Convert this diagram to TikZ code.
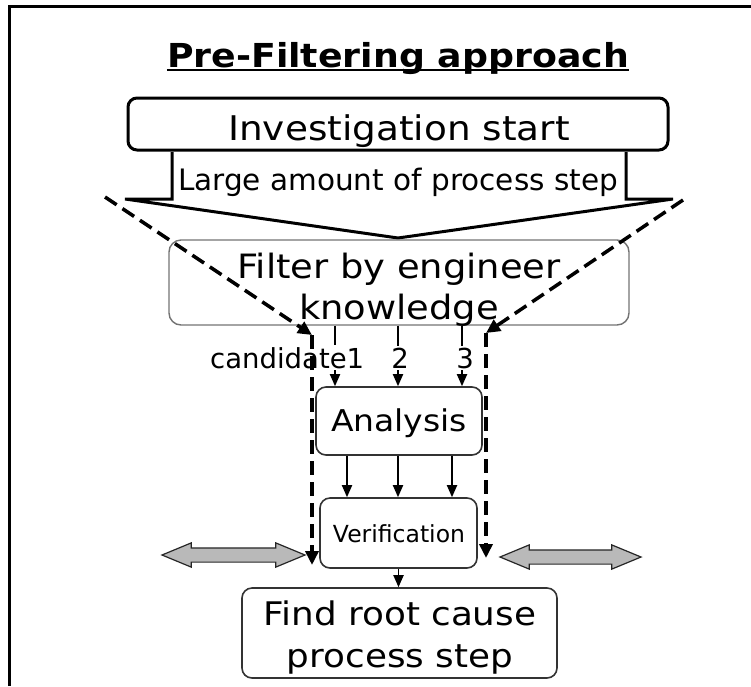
\documentclass[tikz,border=0pt]{standalone}
\usepackage{fontspec}
\setmainfont[FakeStretch=1.1]{DejaVu Sans}
\newfontfamily\plainsans{DejaVu Sans}
\usetikzlibrary{arrows.meta,shapes.arrows}

\begin{document}
\begin{tikzpicture}[x=1pt,y=-1pt,
  box/.style={draw=gray!40!black, line width=1.6pt, rounded corners=10pt, inner sep=0pt},
  arr/.style={-{Triangle[length=12pt,width=10pt]}, line width=1.8pt},
  dsh/.style={line width=3.5pt, dash pattern=on 14pt off 7pt, -{Triangle[length=14pt,width=13pt]}},
  twoway/.style={double arrow, draw=gray!30!black, fill=gray!55, line width=1.2pt, inner xsep=0pt, inner ysep=6.5pt,
    double arrow head extend=5pt, double arrow tip angle=45}]
\useasboundingbox (0,0) rectangle (751,686);
\draw[line width=3pt] (9,686) -- (9,6) -- (751,6);

\node[anchor=base, inner sep=0pt, font=\bfseries\fontsize{33}{40}\selectfont] (ttl) at (398,67) {Pre-Filtering approach};
\draw[line width=2pt] ([yshift=-3pt]ttl.base west) -- ([yshift=-3pt]ttl.base east);

\node[draw, line width=3pt, rounded corners=9pt, minimum width=540pt, minimum height=52pt] (inv) at (398,124) {};
\node[anchor=base, font=\fontsize{34}{41}\selectfont] (invtxt) at (399,140) {Investigation start};

\draw[line width=3pt] (172,152) -- (172,199) -- (125,199) -- (398,238) -- (673,199) -- (626,199) -- (626,152);
\node[anchor=base, font=\plainsans\fontsize{29.5}{36}\selectfont] (many) at (398,190) {Large amount of process step};

\node[box, draw=black!55, line width=1.4pt, rounded corners=12pt, minimum width=460pt, minimum height=85pt] (filt) at (399,282.5) {};
\node[align=center, font=\fontsize{33.5}{41}\selectfont] (filttxt) at (399,290) {Filter by engineer\\knowledge};

\node[box, minimum width=166pt, minimum height=68pt] (ana) at (399,421) {};
\node[anchor=base, font=\fontsize{30}{36}\selectfont] (anatxt) at (399,431) {Analysis};
\node[box, minimum width=157pt, minimum height=70pt] (ver) at (398.5,533) {};
\node[anchor=base, font=\plainsans\fontsize{23.5}{28}\selectfont] (vertxt) at (399,542) {Verification};
\node[box, minimum width=315pt, minimum height=90pt] (find) at (399.5,633) {};
\node[align=center, font=\fontsize{32.5}{42}\selectfont] (findtxt) at (400,638) {Find root cause\\process step};

\coordinate (c1) at (335,0);
\coordinate (c2) at (398,0);
\coordinate (c3) at (462,0);
\coordinate (d1) at (347,0);
\coordinate (d2) at (398,0);
\coordinate (d3) at (452,0);

\draw[arr] (filt.south -| c1) -- (ana.north -| c1);
\draw[arr] (filt.south -| c2) -- (ana.north -| c2);
\draw[arr] (filt.south -| c3) -- (ana.north -| c3);
\node[anchor=base west, fill=white, inner sep=2pt, font=\plainsans\fontsize{27.5}{33}\selectfont] (cand) at (208,368) {candidate1};
\node[anchor=base, fill=white, inner sep=2pt, font=\plainsans\fontsize{27.5}{33}\selectfont] (n2) at (400,368) {2};
\node[anchor=base, fill=white, inner sep=2pt, font=\plainsans\fontsize{27.5}{33}\selectfont] (n3) at (465,368) {3};

\draw[arr] (ana.south -| d1) -- (ver.north -| d1);
\draw[arr] (ana.south -| d2) -- (ver.north -| d2);
\draw[arr] (ana.south -| d3) -- (ver.north -| d3);
\draw[arr] (ver.south) -- (ver.south |- find.north);

\coordinate (ltop) at (105,197);
\coordinate (lknee) at (312,335);
\coordinate (lend) at (312,565);
\coordinate (rtop) at (683,200);
\coordinate (rknee) at (486,333);
\coordinate (rend) at (486,558);
\draw[dsh] (ltop) -- (lknee);
\draw[dsh] (lknee) -- (lend);
\draw[dsh] (rtop) -- (rknee);
\draw[dsh] (rknee) -- (rend);

\node[twoway, minimum height=143pt] (lswap) at (233.5,555) {};
\node[twoway, minimum height=141pt] (rswap) at (570.5,557) {};
\end{tikzpicture}
\end{document}
